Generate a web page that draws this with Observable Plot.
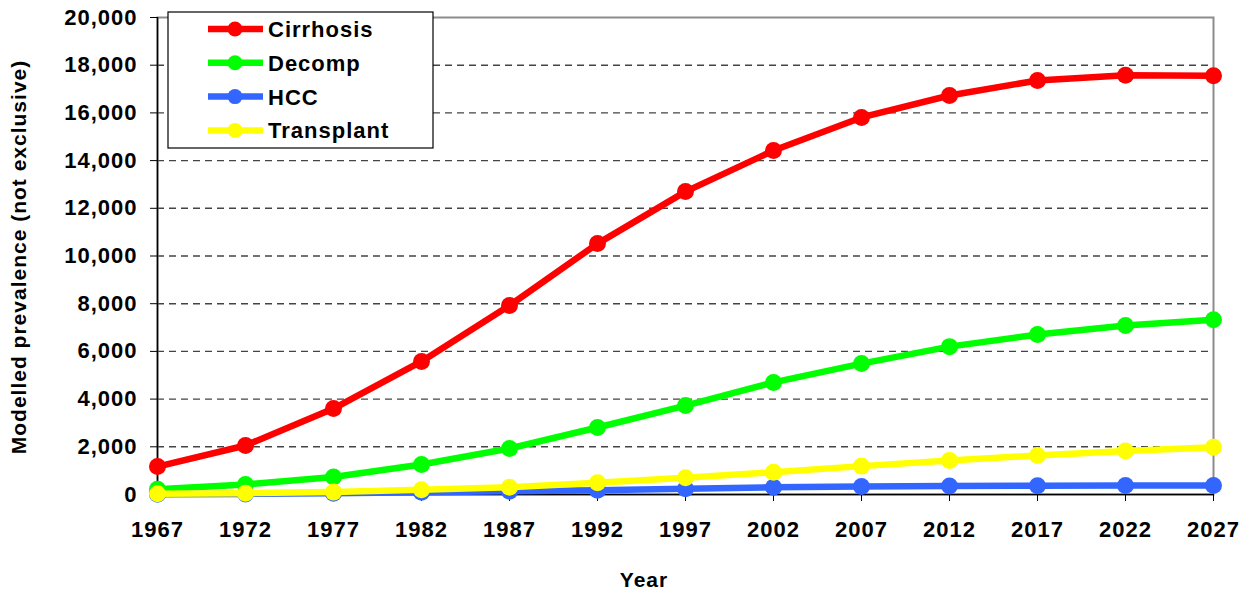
<!DOCTYPE html>
<html><head><meta charset="utf-8">
<script src="https://cdn.jsdelivr.net/npm/d3@7"></script>
<script src="https://cdn.jsdelivr.net/npm/@observablehq/plot@0.6"></script>
<style>
body{margin:0;background:#fff}
svg text{font-family:"Liberation Sans",Arial,sans-serif;font-weight:bold;letter-spacing:1px}
</style></head><body><div id="chart"></div>
<script>
const years = [1967, 1972, 1977, 1982, 1987, 1992, 1997, 2002, 2007, 2012, 2017, 2022, 2027];
const seriesNames = ["Cirrhosis", "Decomp", "HCC", "Transplant"];
const seriesColors = ["#ff0000", "#00ff00", "#3366ff", "#ffff00"];
const cirrhosis = [1170, 2055, 3605, 5580, 7925, 10520, 12700, 14420, 15810, 16730, 17360, 17580, 17560];
const decomp = [220, 420, 730, 1260, 1930, 2810, 3730, 4700, 5490, 6200, 6710, 7090, 7330];
const hcc = [10, 25, 50, 95, 140, 180, 240, 300, 340, 360, 370, 380, 380];
const transplant = [30, 55, 100, 195, 305, 490, 700, 935, 1190, 1425, 1640, 1820, 1985];
const yTicks = [0, 2000, 4000, 6000, 8000, 10000, 12000, 14000, 16000, 18000, 20000];
const yLabel = "Modelled prevalence (not exclusive)";
const xLabel = "Year";

const values = [cirrhosis, decomp, hcc, transplant];
const rows = seriesNames.flatMap((name, i) => years.map((year, j) => ({series: name, year, value: values[i][j]})));
const gridTicks = yTicks.slice(1, -1);

const marks = [
  Plot.ruleY(gridTicks, {stroke: "#444", strokeWidth: 1.4, strokeDasharray: "7,5"}),
  Plot.frame({stroke: "#8c8c8c", strokeWidth: 2}),
  Plot.axisY({ticks: yTicks, tickSize: 7, tickPadding: 13, tickFormat: d3.format(","), fontSize: 22, label: null}),
  Plot.axisX({ticks: years, tickSize: 7, tickPadding: 20, tickFormat: d => String(d), fontSize: 22, label: null}),
  Plot.ruleX([years[0]], {stroke: "#000", strokeWidth: 1.5}),
  Plot.ruleY([0], {stroke: "#000", strokeWidth: 1.5})
];
seriesNames.forEach((name, i) => {
  const d = rows.filter(r => r.series === name);
  marks.push(Plot.line(d, {x: "year", y: "value", stroke: seriesColors[i], strokeWidth: 6.5}));
  marks.push(Plot.dot(d, {x: "year", y: "value", fill: seriesColors[i], r: 8.5}));
});

const svgNode = Plot.plot({
  width: 1253, height: 590,
  marginLeft: 157, marginRight: 40, marginTop: 17, marginBottom: 96,
  x: {domain: [years[0], years[years.length - 1]]},
  y: {domain: [0, 20000]},
  marks
});
document.getElementById("chart").appendChild(svgNode);

const svg = d3.select(svgNode);
svg.append("text").attr("transform", "translate(26,257) rotate(-90)")
  .attr("text-anchor", "middle").attr("font-size", 21).attr("fill", "#000").text(yLabel);
svg.append("text").attr("x", 644).attr("y", 587)
  .attr("text-anchor", "middle").attr("font-size", 21).attr("fill", "#000").text(xLabel);

const lg = svg.append("g");
lg.append("rect").attr("x", 168).attr("y", 12).attr("width", 265).attr("height", 136)
  .attr("fill", "#fff").attr("stroke", "#000").attr("stroke-width", 1.2);
seriesNames.forEach((name, i) => {
  const cy = 29 + i * 33.8;
  lg.append("line").attr("x1", 208).attr("x2", 263).attr("y1", cy).attr("y2", cy)
    .attr("stroke", seriesColors[i]).attr("stroke-width", 6.5);
  lg.append("circle").attr("cx", 235).attr("cy", cy).attr("r", 7.5).attr("fill", seriesColors[i]);
  lg.append("text").attr("x", 268).attr("y", cy + 8).attr("text-anchor", "start")
    .attr("font-size", 22).attr("fill", "#000").text(name);
});
</script></body></html>
